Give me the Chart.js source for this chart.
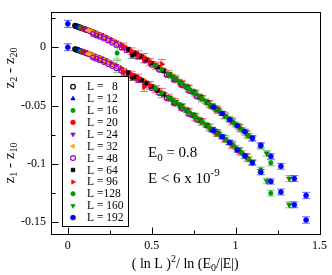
<!DOCTYPE html>
<html><head><meta charset="utf-8">
<script src="https://cdn.jsdelivr.net/npm/chart.js@4.4.0/dist/chart.umd.min.js"></script>
<style>html,body{margin:0;padding:0;background:#fff}#wrap{width:332px;height:275px}</style>
</head><body><div id="wrap"><canvas id="c" width="332" height="275"></canvas></div>
<script>
// ---- data ----
const sizes = [8, 12, 16, 20, 24, 32, 48, 64, 96, 128, 160, 192];
const legendLabels = ["L =   8", "L = 12", "L = 16", "L = 20", "L = 24", "L = 32", "L = 48", "L = 64", "L = 96", "L =128", "L = 160", "L = 192"];
const xTicks = [0, 0.5, 1, 1.5];
const xTickLabels = ["0", "0.5", "1", "1.5"];
const yTicks = [0, -0.05, -0.1, -0.15];
const yTickLabels = ["0", "-0.05", "-0.1", "-0.15"];

const x8  = [0.043, 0.049, 0.055, 0.061, 0.068, 0.076, 0.085, 0.095, 0.105, 0.117, 0.13, 0.145, 0.16, 0.175, 0.19, 0.205, 0.222];
const up8 = [0.0184, 0.0181, 0.0178, 0.0175, 0.0171, 0.0167, 0.0162, 0.0158, 0.0152, 0.0146, 0.0139, 0.0131, 0.0122, 0.0113, 0.0104, 0.0095, 0.0085];
const lo8 = [-0.0016, -0.0019, -0.0022, -0.0025, -0.0029, -0.0033, -0.0038, -0.0042, -0.0048, -0.0054, -0.0061, -0.0069, -0.0078, -0.0087, -0.0096, -0.0105, -0.0115];
const er8 = [0.0004, 0.0004, 0.0004, 0.0004, 0.0004, 0.0004, 0.0004, 0.0004, 0.0005, 0.0005, 0.0005, 0.0005, 0.0005, 0.0006, 0.0006, 0.0006, 0.0006];

const x12  = [0.06, 0.068, 0.078, 0.088, 0.10, 0.112, 0.125, 0.14, 0.155, 0.172, 0.19, 0.21, 0.235, 0.258, 0.28, 0.30, 0.315];
const up12 = [0.0175, 0.0171, 0.0166, 0.0161, 0.0155, 0.0149, 0.0142, 0.0134, 0.0125, 0.0115, 0.0104, 0.0092, 0.0076, 0.006, 0.0045, 0.0031, 0.002];
const lo12 = [-0.0025, -0.0029, -0.0034, -0.0039, -0.0045, -0.0051, -0.0058, -0.0066, -0.0075, -0.0085, -0.0096, -0.0108, -0.0124, -0.014, -0.0155, -0.0169, -0.018];
const er12 = [0.0004, 0.0004, 0.0004, 0.0004, 0.0005, 0.0005, 0.0005, 0.0005, 0.0005, 0.0006, 0.0006, 0.0006, 0.0006, 0.0007, 0.0007, 0.0007, 0.0007];

const x16  = [0.075, 0.085, 0.095, 0.107, 0.12, 0.137, 0.155, 0.175, 0.195, 0.217, 0.24, 0.265, 0.294, 0.315, 0.34, 0.365, 0.395];
const up16 = [0.0167, 0.0162, 0.0157, 0.0151, 0.0145, 0.0136, 0.0125, 0.0113, 0.0101, 0.0087, 0.0072, 0.0054, -0.005, 0.0019, -0.0001, -0.0021, -0.0046];
const lo16 = [-0.0033, -0.0038, -0.0043, -0.0049, -0.0055, -0.0064, -0.0075, -0.0087, -0.0099, -0.0113, -0.0128, -0.0146, -0.0165, -0.0181, -0.0201, -0.0221, -0.0246];
const er16 = [0.0004, 0.0005, 0.0005, 0.0005, 0.0005, 0.0005, 0.0005, 0.0006, 0.0006, 0.0006, 0.0006, 0.0007, 0.0052, 0.0008, 0.0008, 0.0009, 0.0009];

const x20  = [0.09, 0.102, 0.115, 0.13, 0.145, 0.165, 0.185, 0.207, 0.23, 0.255, 0.28, 0.31, 0.34, 0.37, 0.40, 0.43, 0.46];
const up20 = [0.016, 0.0154, 0.0148, 0.014, 0.0131, 0.012, 0.011, 0.0096, 0.008, 0.0063, 0.0045, 0.0021, -0.0002, -0.0026, -0.005, -0.0074, -0.0098];
const lo20 = [-0.004, -0.0046, -0.0052, -0.006, -0.0069, -0.008, -0.009, -0.0104, -0.012, -0.0137, -0.0155, -0.0179, -0.0202, -0.0226, -0.025, -0.0274, -0.0298];
const er20 = [0.0005, 0.0005, 0.0005, 0.0005, 0.0005, 0.0006, 0.0006, 0.0006, 0.0006, 0.0007, 0.0007, 0.0008, 0.0008, 0.0009, 0.0009, 0.001, 0.001];

const x24  = [0.10, 0.115, 0.13, 0.147, 0.165, 0.187, 0.21, 0.235, 0.26, 0.29, 0.32, 0.355, 0.39, 0.42, 0.45, 0.485, 0.52];
const up24 = [0.0155, 0.0148, 0.0139, 0.013, 0.012, 0.0107, 0.0092, 0.0078, 0.006, 0.0038, 0.0013, -0.0014, -0.0042, -0.0066, -0.009, -0.0122, -0.0154];
const lo24 = [-0.0045, -0.0052, -0.0061, -0.007, -0.008, -0.0093, -0.0108, -0.0122, -0.014, -0.0162, -0.0187, -0.0214, -0.0242, -0.0266, -0.029, -0.0322, -0.0354];
const er24 = [0.0005, 0.0005, 0.0005, 0.0006, 0.0006, 0.0006, 0.0006, 0.0007, 0.0007, 0.0007, 0.0007, 0.0008, 0.0008, 0.0009, 0.0009, 0.001, 0.001];

const x32  = [0.12, 0.135, 0.15, 0.17, 0.19, 0.215, 0.24, 0.27, 0.30, 0.335, 0.37, 0.41, 0.45, 0.49, 0.53, 0.57, 0.615];
const up32 = [0.0145, 0.0137, 0.0128, 0.0116, 0.0104, 0.0089, 0.0072, 0.0051, 0.0028, 0.0002, -0.0026, -0.0058, -0.009, -0.0126, -0.0164, -0.0202, -0.0246];
const lo32 = [-0.0055, -0.0063, -0.0072, -0.0084, -0.0096, -0.0111, -0.0128, -0.0149, -0.0172, -0.0198, -0.0226, -0.0258, -0.029, -0.0326, -0.0364, -0.0402, -0.0446];
const er32 = [0.0005, 0.0005, 0.0006, 0.0006, 0.0006, 0.0007, 0.0007, 0.0007, 0.0007, 0.0008, 0.0008, 0.0009, 0.0009, 0.001, 0.001, 0.0011, 0.0011];

const x48  = [0.15, 0.17, 0.19, 0.215, 0.24, 0.265, 0.29, 0.32, 0.35, 0.385, 0.42, 0.46, 0.50, 0.545, 0.59, 0.635, 0.68, 0.725, 0.77];
const up48 = [0.0113, 0.0101, 0.0089, 0.0074, 0.0057, 0.0039, 0.002, -0.0002, -0.0025, -0.0053, -0.0081, -0.0114, -0.0151, -0.0193, -0.0236, -0.0279, -0.0325, -0.0374, -0.0422];
const lo48 = [-0.0087, -0.0099, -0.0111, -0.0126, -0.0143, -0.0161, -0.018, -0.0202, -0.0225, -0.0253, -0.0281, -0.0314, -0.0351, -0.0393, -0.0436, -0.0479, -0.0525, -0.0574, -0.0622];
const er48 = [0.0006, 0.0006, 0.0006, 0.0007, 0.0007, 0.0007, 0.0007, 0.0008, 0.0008, 0.0009, 0.0009, 0.001, 0.001, 0.0011, 0.0011, 0.0012, 0.0012, 0.0013, 0.0013];

const x64  = [0.36, 0.385, 0.41, 0.44, 0.47, 0.50, 0.535, 0.57, 0.605, 0.64, 0.675, 0.71, 0.75, 0.79, 0.83, 0.86, 0.89];
const up64 = [-0.0018, -0.0068, -0.0058, -0.0082, -0.0108, -0.0136, -0.0169, -0.0202, -0.0236, -0.0271, -0.0306, -0.0342, -0.0385, -0.0429, -0.0472, -0.0504, -0.0535];
const lo64 = [-0.0218, -0.0258, -0.0258, -0.0282, -0.0308, -0.0336, -0.0369, -0.0402, -0.0436, -0.0471, -0.0506, -0.0542, -0.0585, -0.0629, -0.0672, -0.0704, -0.0735];
const er64 = [0.001, 0.0027, 0.001, 0.0011, 0.0011, 0.0012, 0.0012, 0.0013, 0.0013, 0.0014, 0.0014, 0.0015, 0.0015, 0.0016, 0.0016, 0.0017, 0.0017];

const x96  = [0.33, 0.38, 0.42, 0.455, 0.49, 0.525, 0.56, 0.60, 0.64, 0.68, 0.72, 0.76, 0.80, 0.845, 0.89, 0.935, 0.98, 1.025, 1.07];
const up96 = [0.0005, -0.0034, -0.0066, -0.0094, -0.0127, -0.0159, -0.0145, -0.0231, -0.0271, -0.0311, -0.0353, -0.0396, -0.044, -0.0488, -0.0535, -0.0585, -0.0636, -0.0691, -0.0747];
const lo96 = [-0.0217, -0.0234, -0.0266, -0.034, -0.0327, -0.0359, -0.0392, -0.0431, -0.0471, -0.0511, -0.0553, -0.0596, -0.064, -0.0688, -0.0735, -0.0785, -0.0836, -0.0891, -0.0947];
const er96 = [0.003, 0.0028, 0.0035, 0.004, 0.0032, 0.003, 0.004, 0.003, 0.003, 0.0028, 0.003, 0.003, 0.0028, 0.003, 0.003, 0.0028, 0.003, 0.003, 0.003];

const x128  = [0.52, 0.56, 0.60, 0.64, 0.68, 0.72, 0.76, 0.80, 0.84, 0.88, 0.92, 0.96, 1.00, 1.04, 1.08, 1.15, 1.21];
const up128 = [-0.0155, -0.0192, -0.0231, -0.0271, -0.0311, -0.0353, -0.0396, -0.044, -0.0483, -0.0525, -0.0567, -0.0612, -0.066, -0.0708, -0.076, -0.085, -0.099];
const lo128 = [-0.0355, -0.0392, -0.0431, -0.0471, -0.0511, -0.0553, -0.0596, -0.064, -0.0683, -0.0725, -0.0767, -0.0812, -0.086, -0.0908, -0.096, -0.105, -0.125];
const er128 = [0.0015, 0.0015, 0.0015, 0.0016, 0.0016, 0.0017, 0.0017, 0.0018, 0.0018, 0.0019, 0.0019, 0.002, 0.002, 0.0021, 0.0022, 0.0023, 0.0025];

const x160  = [0.62, 0.66, 0.70, 0.74, 0.78, 0.82, 0.86, 0.90, 0.94, 0.98, 1.02, 1.06, 1.10, 1.186, 1.32];
const up160 = [-0.025, -0.029, -0.0332, -0.0375, -0.0418, -0.0462, -0.0505, -0.0545, -0.059, -0.0636, -0.0685, -0.0735, -0.0785, -0.091, -0.1125];
const lo160 = [-0.045, -0.049, -0.0532, -0.0575, -0.0618, -0.0662, -0.0705, -0.0745, -0.079, -0.0836, -0.0885, -0.0935, -0.0985, -0.1146, -0.135];
const er160 = [0.0016, 0.0016, 0.0017, 0.0017, 0.0018, 0.0018, 0.0019, 0.0019, 0.002, 0.002, 0.002, 0.0021, 0.0022, 0.0024, 0.0026];

const x192  = [0, 0.87, 0.92, 0.965, 1.01, 1.055, 1.10, 1.15, 1.21, 1.27, 1.35, 1.42];
const up192 = [0.02, -0.0515, -0.0567, -0.0622, -0.0672, -0.0722, -0.0778, -0.084, -0.0935, -0.102, -0.1125, -0.127];
const lo192 = [0, -0.0715, -0.0767, -0.0818, -0.088, -0.093, -0.099, -0.107, -0.115, -0.124, -0.135, -0.148];
const er192 = [0.003, 0.0015, 0.0015, 0.0018, 0.0018, 0.002, 0.002, 0.0022, 0.0022, 0.0025, 0.0025, 0.0027];

const seriesX  = [x8, x12, x16, x20, x24, x32, x48, x64, x96, x128, x160, x192];
const seriesUp = [up8, up12, up16, up20, up24, up32, up48, up64, up96, up128, up160, up192];
const seriesLo = [lo8, lo12, lo16, lo20, lo24, lo32, lo48, lo64, lo96, lo128, lo160, lo192];
const seriesEr = [er8, er12, er16, er20, er24, er32, er48, er64, er96, er128, er160, er192];

// ---- styles ----
const colors = ["#000000", "#0000ff", "#009900", "#ff0000", "#9400d3", "#ffa500", "#9400d3", "#000000", "#ff0000", "#009900", "#008b00", "#0000ff"];
const errColors = ["rgba(0,0,0,0.5)", "rgba(0,0,255,0.5)", "rgba(0,153,0,0.5)", "rgba(255,0,0,0.55)", "rgba(148,0,211,0.5)", "rgba(255,165,0,0.55)", "rgba(148,0,211,0.5)", "rgba(0,0,0,0.55)", "rgba(255,0,0,0.6)", "rgba(0,153,0,0.55)", "rgba(0,139,0,0.5)", "rgba(0,0,255,0.6)"];
const styles = ["circle", "triangle", "circle", "circle", "triangle", "triangle", "circle", "rect", "triangle", "circle", "triangle", "circle"];
const rotations = [0, 0, 0, 0, 180, 270, 0, 0, 90, 0, 180, 0];
const hollow = [true, false, false, false, false, false, true, false, false, false, false, false];
const radii = [2.3, 3.0, 2.2, 2.4, 3.0, 3.0, 2.4, 2.8, 3.2, 2.2, 3.2, 2.5];

const datasets = sizes.map((L, i) => {
  const xs = seriesX[i];
  const pts = xs.map((x, k) => ({x: x, y: seriesUp[i][k], e: seriesEr[i][k]}))
    .concat(xs.map((x, k) => ({x: x, y: seriesLo[i][k], e: seriesEr[i][k]})));
  return {
    label: legendLabels[i], data: pts, showLine: false,
    pointStyle: styles[i], rotation: rotations[i], pointRadius: radii[i],
    backgroundColor: hollow[i] ? "rgba(0,0,0,0)" : colors[i],
    borderColor: colors[i], borderWidth: hollow[i] ? 1.2 : 0.6,
    errColor: errColors[i], order: sizes.length - 1 - i
  };
});

function drawMarker(ctx, style, rot, r, x, y, color, isHollow) {
  ctx.save();
  ctx.fillStyle = color; ctx.strokeStyle = color; ctx.lineWidth = isHollow ? 1.2 : 0.6;
  ctx.beginPath();
  if (style === "circle") { ctx.arc(x, y, r, 0, Math.PI * 2); }
  else if (style === "rect") { const s = r * Math.SQRT1_2; ctx.rect(x - s, y - s, 2 * s, 2 * s); }
  else {
    let a = rot * Math.PI / 180;
    for (let k = 0; k < 3; k++) {
      const px = x + Math.sin(a) * r, py = y - Math.cos(a) * r;
      if (k === 0) ctx.moveTo(px, py); else ctx.lineTo(px, py);
      a += 2 * Math.PI / 3;
    }
    ctx.closePath();
  }
  if (!isHollow) ctx.fill();
  ctx.stroke();
  ctx.restore();
}

function richWidth(ctx, parts) {
  let w = 0;
  parts.forEach(p => { ctx.font = p.s + "px 'Liberation Serif'"; w += ctx.measureText(p.t).width; });
  return w;
}
function drawRich(ctx, parts, x, y, center) {
  let cx = center ? x - richWidth(ctx, parts) / 2 : x;
  ctx.textBaseline = "alphabetic"; ctx.textAlign = "left"; ctx.fillStyle = "#000";
  parts.forEach(p => {
    ctx.font = p.s + "px 'Liberation Serif'";
    ctx.fillText(p.t, cx, y + (p.dy || 0));
    cx += ctx.measureText(p.t).width;
  });
}

const errorBars = {
  id: "errorBars",
  beforeDatasetsDraw(chart) {
    const ctx = chart.ctx, xs = chart.scales.x, ys = chart.scales.y;
    chart.data.datasets.forEach(ds => {
      ctx.save(); ctx.strokeStyle = ds.errColor; ctx.lineWidth = 1;
      ds.data.forEach(p => {
        if (!p.e) return;
        const px = xs.getPixelForValue(p.x);
        const y1 = ys.getPixelForValue(p.y + p.e), y2 = ys.getPixelForValue(p.y - p.e);
        ctx.beginPath();
        ctx.moveTo(px, y1); ctx.lineTo(px, y2);
        if (y2 - y1 > 2.5) {
          ctx.moveTo(px - 4, y1); ctx.lineTo(px + 4, y1);
          ctx.moveTo(px - 4, y2); ctx.lineTo(px + 4, y2);
        }
        ctx.stroke();
      });
      ctx.restore();
    });
  }
};

const decor = {
  id: "decor",
  afterDraw(chart) {
    const ctx = chart.ctx, a = chart.chartArea, xs = chart.scales.x, ys = chart.scales.y;
    ctx.save();
    ctx.strokeStyle = "#000"; ctx.lineWidth = 1;
    ctx.strokeRect(Math.round(a.left) + 0.5, Math.round(a.top) + 0.5, Math.round(a.right - a.left), Math.round(a.bottom - a.top));
    ctx.beginPath();
    const xMinor = [0.25, 0.75, 1.25];
    const yMinor = [0.025, -0.025, -0.075, -0.125];
    const bx = Math.round(a.bottom) + 0.5, lx = Math.round(a.left) + 0.5;
    xTicks.forEach(v => { const p = Math.round(xs.getPixelForValue(v)) + 0.5; ctx.moveTo(p, bx); ctx.lineTo(p, bx - 7); });
    xMinor.forEach(v => { const p = Math.round(xs.getPixelForValue(v)) + 0.5; ctx.moveTo(p, bx); ctx.lineTo(p, bx - 4); });
    yTicks.forEach(v => { const p = Math.round(ys.getPixelForValue(v)) + 0.5; ctx.moveTo(lx, p); ctx.lineTo(lx + 7, p); });
    yMinor.forEach(v => { const p = Math.round(ys.getPixelForValue(v)) + 0.5; ctx.moveTo(lx, p); ctx.lineTo(lx + 4, p); });
    ctx.stroke();

    drawRich(ctx, [{t: "( ln L )", s: 14}, {t: "2", s: 10, dy: -6}, {t: "/ ln (E", s: 14}, {t: "0", s: 10, dy: 3}, {t: "/|E|)", s: 14}], (a.left + a.right) / 2, 268, true);

    const yTitle = (parts, cy) => {
      ctx.save(); ctx.translate(14, cy); ctx.rotate(-Math.PI / 2);
      drawRich(ctx, parts, 0, 0, true); ctx.restore();
    };
    yTitle([{t: "z", s: 15}, {t: "2", s: 10, dy: 3}, {t: " - z", s: 15}, {t: "20", s: 10, dy: 3}], 68);
    yTitle([{t: "z", s: 15}, {t: "1", s: 10, dy: 3}, {t: " - z", s: 15}, {t: "10", s: 10, dy: 3}], 163);

    drawRich(ctx, [{t: "E", s: 15}, {t: "0", s: 11, dy: 4}, {t: " = 0.8", s: 15}], 148, 157, false);
    drawRich(ctx, [{t: "E < 6 x 10", s: 15}, {t: "-9", s: 11, dy: -7}], 148, 183, false);

    ctx.fillStyle = "#fff";
    ctx.fillRect(62.5, 76.5, 66, 150);
    ctx.strokeStyle = "#000"; ctx.lineWidth = 1;
    ctx.strokeRect(62.5, 76.5, 66, 150);
    legendLabels.forEach((lab, i) => {
      const y = 86.7 + i * 11.9;
      drawMarker(ctx, styles[i], rotations[i], Math.min(radii[i], 2.6), 73, y, colors[i], hollow[i]);
      ctx.fillStyle = "#000"; ctx.font = "11.5px 'Liberation Serif'";
      ctx.textAlign = "left"; ctx.textBaseline = "middle";
      ctx.fillText(lab, 87, y + 0.5);
    });
    ctx.restore();
  }
};

new Chart(document.getElementById("c"), {
  type: "scatter",
  data: {datasets: datasets},
  options: {
    responsive: false, animation: false, devicePixelRatio: 1,
    layout: {padding: {top: 1, right: 10, left: 0, bottom: 0}},
    plugins: {legend: {display: false}, tooltip: {enabled: false}},
    scales: {
      x: {
        type: "linear", min: -0.1, max: 1.5,
        grid: {display: false, drawTicks: false}, border: {display: false},
        ticks: {padding: 5, color: "#000", font: {family: "'Liberation Serif'", size: 12},
          callback: (v) => { const k = xTicks.indexOf(v); return k >= 0 ? xTickLabels[k] : ""; }},
        afterBuildTicks: (s) => { s.ticks = xTicks.map(v => ({value: v})); },
        afterFit: (s) => { s.height = 41; }
      },
      y: {
        type: "linear", min: -0.16, max: 0.03,
        grid: {display: false, drawTicks: false}, border: {display: false},
        ticks: {padding: 5, color: "#000", font: {family: "'Liberation Serif'", size: 12},
          callback: (v) => { const k = yTicks.indexOf(v); return k >= 0 ? yTickLabels[k] : ""; }},
        afterBuildTicks: (s) => { s.ticks = yTicks.map(v => ({value: v})); },
        afterFit: (s) => { s.width = 51; }
      }
    }
  },
  plugins: [errorBars, decor]
});
</script></body></html>
